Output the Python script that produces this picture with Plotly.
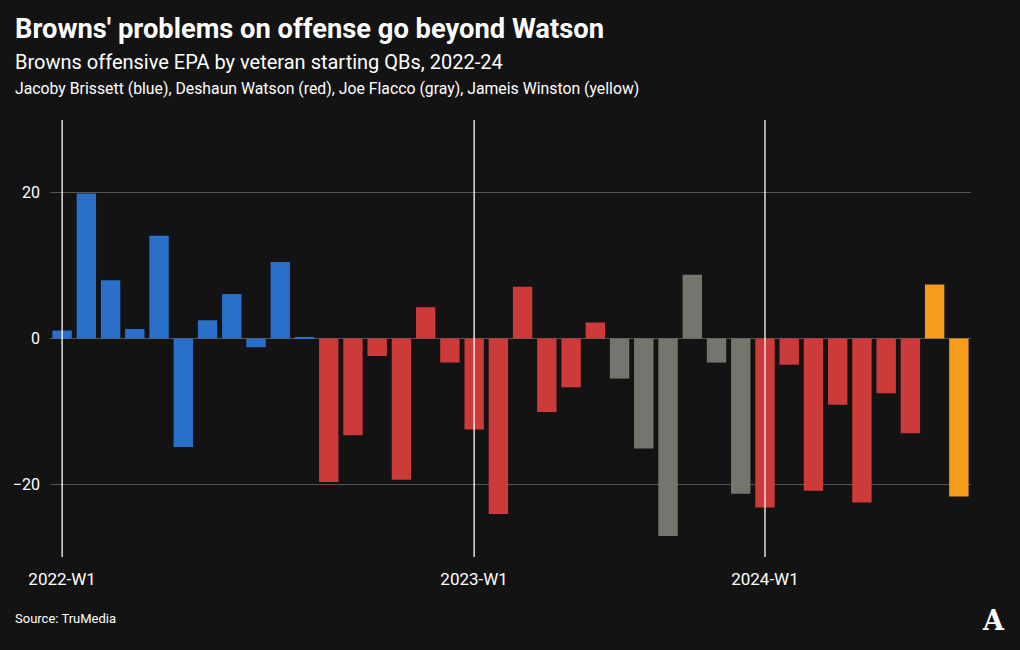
import plotly.graph_objects as go

# ---- data ----
epa = [1.1, 19.9, 8.0, 1.3, 14.1, -14.9, 2.5, 6.1, -1.2, 10.5, 0.2,
       -19.7, -13.3, -2.4, -19.4, 4.3, -3.3, -12.5, -24.1, 7.1, -10.1, -6.7, 2.2,
       -5.5, -15.1, -27.1, 8.75, -3.3, -21.3,
       -23.2, -3.6, -20.9, -9.1, -22.5, -7.5, -13.0,
       7.4, -21.7]
qb = (["Brissett"] * 11 + ["Watson"] * 12 + ["Flacco"] * 6 +
      ["Watson"] * 7 + ["Winston"] * 2)
qb_colors = {"Brissett": "#2a70c9", "Watson": "#cc3a3a",
             "Flacco": "#75756d", "Winston": "#f59c1f"}
x_tick_idx = [0, 17, 29]
x_tick_text = ["2022-W1", "2023-W1", "2024-W1"]
y_ticks = [-20, 0, 20]

BG = "#131313"
x = list(range(len(epa)))

fig = go.Figure()
fig.add_trace(go.Bar(
    x=x, y=epa,
    marker=dict(color=[qb_colors[q] for q in qb], line=dict(width=0)),
    hoverinfo="skip",
))

# plot area geometry (pixels)
L, R, T, B = 50, 971, 120, 557
W, H = R - L, B - T
def px(v):
    return (v - L) / W
def py(v):
    return (B - v) / H

for i in x_tick_idx:
    fig.add_shape(type="line", xref="x", yref="paper", x0=i, x1=i, y0=0, y1=1,
                  line=dict(color="#ffffff", width=1.3), layer="above")

font = "Roboto, 'Liberation Sans', sans-serif"
anns = [
    dict(text="<b>Browns' problems on offense go beyond Watson</b>", x=px(13), y=py(29),
         font=dict(size=27.3, color="#ffffff", family=font)),
    dict(text="Browns offensive EPA by veteran starting QBs, 2022-24", x=px(13), y=py(62),
         font=dict(size=20, color="#ffffff", family=font)),
    dict(text="Jacoby Brissett (blue), Deshaun Watson (red), Joe Flacco (gray), Jameis Winston (yellow)",
         x=px(13), y=py(88), font=dict(size=15.8, color="#ffffff", family=font)),
    dict(text="Source: TruMedia", x=px(13), y=py(618),
         font=dict(size=13, color="#ffffff", family=font)),
]
for a in anns:
    fig.add_annotation(xref="paper", yref="paper", xanchor="left", yanchor="middle",
                       showarrow=False, **a)
fig.add_annotation(xref="paper", yref="paper", x=px(993), y=py(620), xanchor="center",
                   yanchor="middle", showarrow=False, text="<b>A</b>",
                   font=dict(size=27, color="#ffffff", family="DejaVu Serif, serif"))

fig.update_layout(
    width=1020, height=650,
    margin=dict(l=L, r=1020 - R, t=T, b=650 - B, pad=0),
    paper_bgcolor=BG, plot_bgcolor=BG,
    showlegend=False,
    bargap=0.2,
    font=dict(family=font, color="#ffffff"),
    xaxis=dict(range=[-0.5, len(epa) - 0.5], tickmode="array", tickvals=x_tick_idx,
               ticktext=x_tick_text, showgrid=False, zeroline=False, showline=False,
               ticks="", ticklabelstandoff=10, tickfont=dict(size=17, color="#ffffff"),
               fixedrange=True),
    yaxis=dict(range=[-30, 30], tickmode="array", tickvals=y_ticks,
               showgrid=True, gridcolor="#555555", gridwidth=1,
               zeroline=True, zerolinecolor="#555555", zerolinewidth=1,
               showline=False, ticks="", ticklabelstandoff=9,
               tickfont=dict(size=16, color="#ffffff"), fixedrange=True),
)

fig.write_html("out.html", config={"displayModeBar": False})
